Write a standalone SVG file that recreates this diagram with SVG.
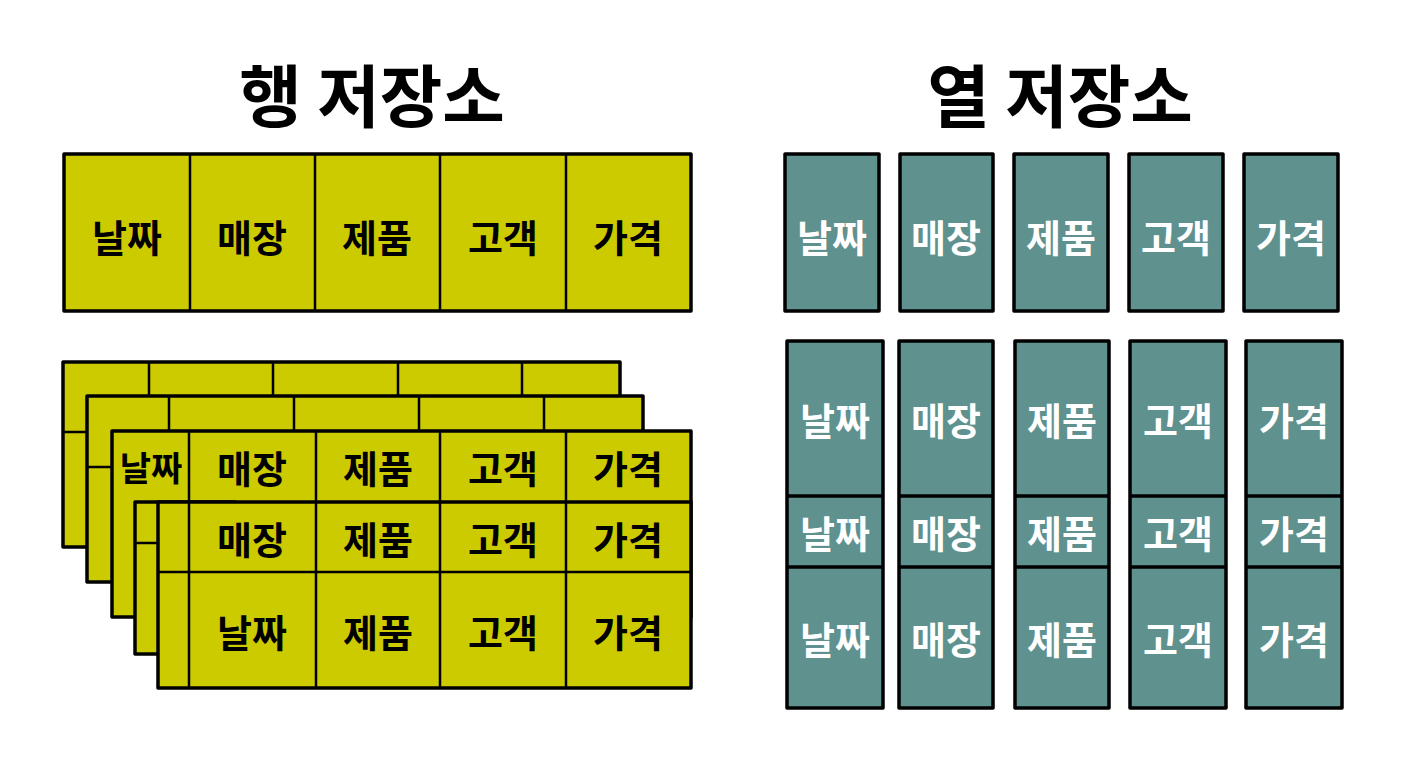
<svg xmlns="http://www.w3.org/2000/svg" width="1408" height="768" viewBox="0 0 1408 768">
<style>
.title{font-family:"Noto Sans CJK KR","Noto Sans CJK SC",sans-serif;font-weight:700;font-size:68px;fill:#000;text-anchor:middle;dominant-baseline:central}
.y{fill:#CCCB00;stroke:#000;stroke-width:3.5;stroke-linejoin:round}
.t{fill:#5F918F;stroke:#000;stroke-width:3.5;stroke-linejoin:round}
.ln{stroke:#000;stroke-width:2.5;fill:none}
.lt{stroke:#000;stroke-width:3.5;fill:none}
.kb{font-family:"Noto Sans CJK KR","Noto Sans CJK SC",sans-serif;font-weight:700;font-size:38px;fill:#000;text-anchor:middle;dominant-baseline:central}
.kw{font-family:"Noto Sans CJK KR","Noto Sans CJK SC",sans-serif;font-weight:700;font-size:38px;fill:#fff;text-anchor:middle;dominant-baseline:central}
</style>
<rect width="1408" height="768" fill="#fff"/>
<g id="title-row"><text class="title" x="372" y="92">행 저장소</text></g>
<g id="title-col"><text class="title" x="1060" y="92">열 저장소</text></g>

<g id="row-single">
<rect class="y" x="64" y="154" width="627" height="157"/>
<path class="ln" d="M190 154V311M315 154V311M440 154V311M566 154V311"/>
<text class="kb" x="127" y="235">날짜</text>
<text class="kb" x="252" y="235">매장</text>
<text class="kb" x="377" y="235">제품</text>
<text class="kb" x="503" y="235">고객</text>
<text class="kb" x="628" y="235">가격</text>
</g>

<g id="row-stack">
<g id="layer1">
<rect class="y" x="63" y="362" width="557" height="185"/>
<path class="ln" d="M149 362V396M273 362V396M398 362V396M522 362V396M63 432H87"/>
</g>
<g id="layer2">
<rect class="y" x="87" y="396" width="556" height="186"/>
<path class="ln" d="M169 396V431M294 396V431M419 396V431M544 396V431M87 467H112"/>
</g>
<g id="layer3">
<rect class="y" x="112" y="431" width="579" height="186"/>
<path class="ln" d="M189 431V502M316 431V502M440 431V502M566 431V502"/>
<text class="kb" x="151" y="466" style="font-size:34px">날짜</text>
<text class="kb" x="252" y="466">매장</text>
<text class="kb" x="378" y="466">제품</text>
<text class="kb" x="503" y="466">고객</text>
<text class="kb" x="628" y="466">가격</text>
</g>
<g id="layer4">
<rect class="y" x="135" y="502" width="100" height="152"/>
<path class="ln" d="M135 543H158"/>
</g>
<g id="layer5">
<rect class="y" x="158" y="502" width="533" height="186"/>
<path class="ln" d="M158 572H691M189 502V688M316 502V688M440 502V688M566 502V688"/>
<text class="kb" x="252" y="537">매장</text>
<text class="kb" x="378" y="537">제품</text>
<text class="kb" x="503" y="537">고객</text>
<text class="kb" x="628" y="537">가격</text>
<text class="kb" x="252" y="630">날짜</text>
<text class="kb" x="378" y="630">제품</text>
<text class="kb" x="503" y="630">고객</text>
<text class="kb" x="628" y="630">가격</text>
</g>
</g>

<g id="col-single">
<rect class="t" x="785" y="154" width="94" height="157"/>
<rect class="t" x="900" y="154" width="93" height="157"/>
<rect class="t" x="1014" y="154" width="94" height="157"/>
<rect class="t" x="1129" y="154" width="94" height="157"/>
<rect class="t" x="1244" y="154" width="94" height="157"/>
<text class="kw" x="832" y="235">날짜</text>
<text class="kw" x="946" y="235">매장</text>
<text class="kw" x="1061" y="235">제품</text>
<text class="kw" x="1176" y="235">고객</text>
<text class="kw" x="1291" y="235">가격</text>
</g>

<g id="col-date">
<rect class="t" x="787" y="341" width="96" height="367"/>
<path class="lt" d="M787 496H883M787 567H883"/>
<text class="kw" x="835" y="418">날짜</text>
<text class="kw" x="835" y="531">날짜</text>
<text class="kw" x="835" y="637">날짜</text>
</g>
<g id="col-store">
<rect class="t" x="899" y="341" width="94" height="367"/>
<path class="lt" d="M899 496H993M899 567H993"/>
<text class="kw" x="946" y="418">매장</text>
<text class="kw" x="946" y="531">매장</text>
<text class="kw" x="946" y="637">매장</text>
</g>
<g id="col-product">
<rect class="t" x="1015" y="341" width="94" height="367"/>
<path class="lt" d="M1015 496H1109M1015 567H1109"/>
<text class="kw" x="1062" y="418">제품</text>
<text class="kw" x="1062" y="531">제품</text>
<text class="kw" x="1062" y="637">제품</text>
</g>
<g id="col-customer">
<rect class="t" x="1130" y="341" width="96" height="367"/>
<path class="lt" d="M1130 496H1226M1130 567H1226"/>
<text class="kw" x="1178" y="418">고객</text>
<text class="kw" x="1178" y="531">고객</text>
<text class="kw" x="1178" y="637">고객</text>
</g>
<g id="col-price">
<rect class="t" x="1246" y="341" width="96" height="367"/>
<path class="lt" d="M1246 496H1342M1246 567H1342"/>
<text class="kw" x="1294" y="418">가격</text>
<text class="kw" x="1294" y="531">가격</text>
<text class="kw" x="1294" y="637">가격</text>
</g>
</svg>
